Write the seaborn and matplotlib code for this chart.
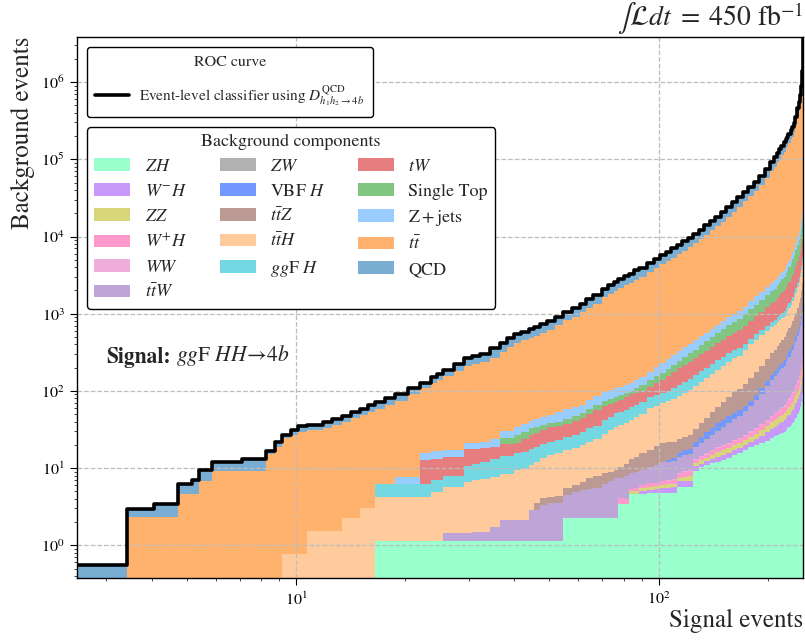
import numpy as np
import pandas as pd
import seaborn as sns
import matplotlib
matplotlib.use("Agg")
import matplotlib.pyplot as plt
from matplotlib.patches import Patch
from matplotlib.lines import Line2D
from matplotlib.ticker import LogLocator, NullFormatter, FixedLocator

# ---------------------------------------------------------------------------
# Signal-event thresholds (left edge of each step) and background yields
# ---------------------------------------------------------------------------
signal_events = [
    2.2, 3.41, 4.07, 4.73, 5.18, 5.40, 5.85, 7.1, 8.28, 8.74,
    9.15, 9.66, 10.1, 10.7, 11.9, 12.6, 13.4, 14.2, 15.0, 15.8,
    16.55, 17.6, 18.7, 20.3, 22.0, 23.5, 24.5, 25.5, 27.2, 29.0,
    30.6, 32.2, 34.3, 36.6, 38.2, 39.8, 41.8, 43.8,
    45.2, 47.2, 49.2, 51.8, 54.4, 57.5, 60.8, 63.2, 66.0, 70.0,
    72.5, 75.1, 77.1, 80.0, 82.7, 85.5, 88.0, 92.9, 97.0, 101.0,
    104.7, 108.4, 112.2, 116.3, 120.4, 124.6, 129.1, 133.7, 138.4, 143.3,
    148.4, 153.7, 159.2, 164.8, 170.7, 176.8, 183.0, 189.5, 196.3, 203.3,
    208, 212, 215, 218, 221, 224, 226, 228, 231, 233,
    236, 238, 241, 243, 245, 247, 248.5, 249.3,
]
signal_max = 250.6

zh = [0.0] * 20 + [1.14] * 22 + [2.24] * 8 + [
    3.4, 3.4, 4.58, 4.58, 4.6, 4.71, 4.71,
    4.75, 4.75, 4.75, 5.74, 5.74, 5.74, 9.3, 10.2, 11, 11.6,
    12.1, 12.8, 13.6, 14.8, 15.8, 17, 18.5, 19.8, 21, 22.5,
    24.5, 26, 27, 28, 28.8, 29.6, 31.5, 33, 34, 36,
    38, 41, 45, 50, 55, 62, 72, 90, 150]

w_minus_h = [0.0] * 54 + [
    0.4, 0.49, 0.6, 0.8, 0.83, 0.86, 1.0, 1.12, 1.15, 1.2,
    1.25, 1.3, 1.6, 1.9, 2.1, 2.3, 2.45, 2.6, 2.8, 3.0,
    4.0, 5.2, 6.5, 7.5, 8, 9, 10, 11.2, 12.4, 13.3,
    14, 15.2, 17, 18.5, 21, 24, 28, 33, 38, 47, 60, 100]

zz = [0.0] * 52 + [
    0.42, 0.45, 0.5, 0.54, 0.54, 0.56, 0.62, 0.7, 0.77, 0.84,
    0.95, 1.1, 1.15, 1.2, 1.5, 2.0, 2.1, 2.3, 2.45, 2.6,
    3.0, 3.5, 4.2, 5.0, 5.8, 7, 8, 8.5, 9, 9.2,
    9.4, 10.3, 11, 12.2, 14, 15.5, 18, 20, 22, 26, 30, 38, 50, 80]

w_plus_h = [0.0] * 50 + [
    0.66, 0.6, 0.4, 0.45, 0.5, 0.61, 0.62, 0.63, 0.66, 0.7,
    0.9, 1.3, 1.25, 1.2, 1.35, 1.5, 1.75, 2.0, 2.2, 2.45,
    2.7, 3.0, 3.3, 3.9, 4.5, 5.2, 5.8, 7, 8, 8.5,
    9, 10, 11.3, 12.8, 14, 15.3, 17, 19, 22, 25,
    30, 35, 40, 48, 60, 100]

ww = [0.0] * 57 + [
    0.13, 0.16, 0.2, 0.25, 0.3, 0.35, 0.4, 0.45, 0.5, 0.5,
    0.5, 0.55, 0.6, 0.65, 0.7, 0.8, 0.9, 1.0, 1.2, 1.4,
    1.7, 2, 2, 2, 2.2, 2.3, 2.6, 3, 3.4, 4,
    4.4, 5, 6, 7, 8.5, 10, 12, 15, 20]

ttw = [0.0] * 27 + [
    0.29, 0.29, 0.32, 0.34, 0.36, 0.6, 0.99, 0.99, 0.99, 0.99, 1.73, 1.76,
    2.2, 2.36, 2.36, 2.26, 2.6, 2.96, 3.2, 3.36, 3.96, 4.5,
    5.13, 3.44, 3.8, 3.2, 3.3, 3.5, 4.05, 4.6, 5.2, 5.0,
    4.8, 5.2, 5.5, 5.4, 5.3, 6.3, 7.5, 9.2, 11.1, 13.5,
    16.5, 19.5, 22, 27, 33, 42, 52, 70, 88, 98,
    110, 122, 132, 142, 160, 175, 190, 212, 235, 273,
    310, 363, 420, 500, 620, 775, 1350]

zw = [0.0] * 59 + [
    0.2, 0.2, 0.2, 0.25, 0.3, 0.4, 0.5, 0.55, 0.6, 0.7,
    0.8, 0.9, 1.0, 1.1, 1.3, 1.6, 2.0, 2.6, 3.3, 4,
    4.5, 5, 5, 5, 6, 7, 8, 10, 11, 12,
    13.5, 15, 17, 20, 25, 30, 50]

vbf_h = [0.0] * 58 + [
    0.8, 1.3, 1.7, 2.2, 2.7, 3.2, 4.3, 5.5, 6.6, 7.8,
    8.2, 8.6, 8.9, 9.0, 9.1, 9.3, 12, 16, 21, 24,
    26, 28, 30, 34, 39, 41, 43, 46, 50, 54,
    58, 65, 75, 87, 100, 130, 170, 250]

ttz = [0.0] * 38 + [
    0.6, 0.7, 0.76, 0.9, 1.0, 1.2, 1.47, 1.9, 2.2, 2.4,
    2.2, 2.08, 2.9, 3.6, 4.4, 5.2, 6, 6.8, 8, 9,
    8.8, 8.5, 8.4, 8.4, 9.2, 10, 13, 16, 20, 24.7,
    30, 36, 43, 50, 60, 72, 88, 105, 120, 145,
    160, 185, 205, 230, 254, 280, 300, 325, 360, 400,
    450, 520, 610, 700, 800, 1000, 1250, 2100]

tth = [0.0] * 10 + [
    0.76, 0.76, 0.76, 1.53, 1.53, 1.53, 2.28, 2.28, 3.07, 3.07,
    3.04, 3.04, 3.04, 3.04, 3.04, 3.8, 3.8, 4.31, 4.31, 5.21,
    5.45, 5.7, 5.96, 6.37, 6.37, 7.32, 7.7, 8.13,
    8.5, 9.5, 10.5, 11.1, 11.7, 12.4, 13.2, 14.6, 16, 19.4,
    22, 25, 25.6, 27, 29, 31.5, 34.5, 42.2, 45, 48,
    52, 57, 62, 67.4, 75, 83, 91, 100, 111, 124,
    138, 155, 170, 180, 210, 255, 285, 315, 345, 370,
    380, 390, 400, 408, 413, 460, 500, 540, 580, 650,
    750, 850, 1000, 1200, 1400, 1700, 2200, 3800]

ggf_h = [0.0] * 20 + [
    2.04, 2.04, 2.04, 2.04, 2.12, 2.06, 2.06, 2.21, 2.21, 3.93,
    4.4, 4.9, 5.3, 5.8, 5.8, 6.15, 6.5, 6.8,
    7, 7.1, 7.2, 7.5, 7.9, 8.8, 9.7, 10.7, 11.7, 14,
    15.5, 16.9, 18, 19, 20, 21, 22, 24.6, 24.3, 24,
    27, 30, 33, 37, 41, 45, 50, 55, 59, 64,
    66, 68, 70, 72, 74, 76, 82, 90, 98, 110,
    120, 125, 130, 140, 152, 170, 180, 190, 200, 220,
    250, 270, 300, 350, 400, 480, 600, 1000]

tw = [0.0] * 24 + [
    6.4, 6.1, 6.1, 5.85, 5.85, 6.9, 6.4, 5.9, 6, 6.2, 6.2, 5.8, 7.2, 8.7,
    9.5, 10.6, 11.8, 12.1, 12.4, 13.5, 14.6, 17.5, 21.1, 21,
    21.1, 21.2, 22, 25, 28, 28, 28, 29, 38, 47,
    56, 65, 76, 87, 96, 105, 117, 130, 146, 163,
    185, 210, 230, 250, 285, 330, 380, 440, 510, 570,
    610, 700, 800, 880, 960, 1050, 1120, 1200, 1300, 1480,
    1700, 1950, 2300, 2700, 3100, 3800, 4700, 8000]

single_top = [0.0] * 33 + [
    4, 4, 5.5, 6, 6.5,
    6, 5.2, 4.4, 5, 5.5, 6.3, 7.2, 8.2, 9.1, 10,
    10.7, 11.4, 12, 11, 10, 14, 18, 25, 28, 32,
    36, 40, 50, 60, 67, 75, 92, 110, 128, 146,
    170, 195, 220, 250, 285, 335, 390, 450, 530, 610,
    650, 750, 850, 920, 980, 1100, 1200, 1400, 1700, 1900,
    2200, 2550, 3000, 3500, 4000, 4800, 6000, 10000]

z_jets = [0.0] * 22 + [
    1.48, 1.48, 2.9, 3.5, 3.5, 3.4, 3.4, 3.4, 3.7, 4, 5, 6, 6, 6.9, 7.5, 8,
    8.5, 9.5, 10.6, 12.5, 15, 14.6, 14.3, 17.5, 20.8, 23,
    23.5, 24, 25, 26.5, 28, 30, 32, 40, 48, 58,
    68, 80, 88, 96, 103, 110, 120, 130, 142, 155,
    170, 190, 210, 225, 260, 320, 370, 420, 480, 560,
    600, 600, 600, 640, 676, 750, 800, 900, 1050, 1200,
    1400, 1650, 2000, 2400, 2900, 3400, 4000, 7000]

ttbar = [
    0.0, 2.35, 2.35, 4.58, 4.58, 6.8, 9.17, 9.17, 15.1, 19.0,
    23.5, 26.2, 28.2, 29.5, 31.5, 34.5, 37.7, 41.7, 45, 49.9,
    51.8, 58.8, 66.3, 82.3, 92.4, 109.4, 123.4, 137.8, 164.8, 190,
    203, 215, 243, 288, 336.5, 384, 414, 440,
    475, 518, 562, 658, 762, 858, 973, 1096, 1258, 1531,
    1700, 1884, 2020, 2217, 2362, 2586, 2818, 3285, 3706, 4139,
    4566, 5051, 5577, 6184, 6819, 7671, 8772, 10001, 11356, 12937,
    14804, 17104, 19952, 23268, 27182, 31655, 36903, 43950, 54466, 67308,
    77515, 89385, 99195, 110100, 121849, 134762, 143945, 156016, 176130, 190840,
    214655, 258975, 342800, 412120, 501360, 649990, 1042500, 3966000]

qcd = [
    0.55, 0.58, 1.05, 1.59, 2.42, 2.65, 2.93, 4.0, 1.7, 2.5,
    2.7, 4.0, 6.0, 5.5, 7.0, 7.5, 8.0, 9, 10, 12,
    14, 15, 16, 18, 20, 24, 27, 30, 40, 54,
    61, 68, 89, 101, 111, 122, 132, 149,
    162, 176, 189, 207, 230, 270, 311, 358, 410, 473,
    533, 608, 644, 706, 810, 905, 972, 1107, 1242, 1391,
    1553, 1715, 1890, 2093, 2322, 2619, 2970, 3389, 3875, 4428,
    4995, 5765, 6750, 7898, 9180, 10733, 12393, 14742, 18185, 22424,
    25785, 29565, 32805, 36450, 40365, 44550, 47655, 51705, 58320, 63315,
    71145, 85725, 113400, 136350, 165240, 213840, 337500, 1000000]

# Stack order (bottom -> top), legend labels and fill colours
labels = [r"$ZH$", r"$W^{-}H$", r"$ZZ$", r"$W^{+}H$", r"$WW$", r"$t\bar{t}W$",
          r"$ZW$", r"VBF $H$", r"$t\bar{t}Z$", r"$t\bar{t}H$", r"$gg$F $H$",
          r"$tW$", "Single Top", r"$\mathrm{Z}+\mathrm{jets}$", r"$t\bar{t}$", "QCD"]
series = [zh, w_minus_h, zz, w_plus_h, ww, ttw, zw, vbf_h, ttz, tth, ggf_h,
          tw, single_top, z_jets, ttbar, qcd]
colors = ["#99FFCC", "#C899FA", "#D7D77A", "#FF99CC", "#EEADDA", "#BFA4D7",
          "#B2B2B2", "#7399FF", "#BA9A93", "#FFCA9C", "#74D8E2", "#E67D7E",
          "#80C680", "#99CCFF", "#FFB26E", "#79ADD2"]

# ---------------------------------------------------------------------------
# Style
# ---------------------------------------------------------------------------
sns.set_style("ticks")
plt.rcParams["font.family"] = "STIXGeneral"
plt.rcParams["mathtext.fontset"] = "stix"

fig = plt.figure(figsize=(8.05, 6.43), dpi=100)
ax = fig.add_axes([77 / 805, 65 / 643, 726 / 805, 541 / 643])
ax.set_xscale("log")
ax.set_yscale("log")

edges = np.append(np.asarray(signal_events, dtype=float), signal_max)
stack = np.cumsum(np.asarray(series, dtype=float), axis=0)

# Each layer is filled from the floor up to its cumulative level; the
# layers are painted top-down so lower ones sit on top without seams.
for k in range(len(series) - 1, -1, -1):
    ax.stairs(stack[k], edges, baseline=1e-2, fill=True,
              color=colors[k], lw=0, zorder=1)

roc = pd.DataFrame({"signal": signal_events, "background": stack[-1]})
sns.lineplot(data=roc, x="signal", y="background", ax=ax, color="black",
             lw=2.6, drawstyle="steps-post", estimator=None, sort=False,
             legend=False, zorder=3)

ax.set_xlim(2.49, 250)
ax.set_ylim(0.377, 3.84e6)

ax.set_axisbelow("line")
ax.grid(True, which="major", ls="--", color="#bdbdbd", lw=0.9)

ax.xaxis.set_major_locator(FixedLocator([10, 100]))
ax.yaxis.set_major_locator(FixedLocator([1, 10, 100, 1e3, 1e4, 1e5, 1e6]))
ax.xaxis.set_minor_locator(LogLocator(base=10, subs=np.arange(2, 10), numticks=100))
ax.yaxis.set_minor_locator(LogLocator(base=10, subs=np.arange(2, 10), numticks=100))
ax.xaxis.set_minor_formatter(NullFormatter())
ax.yaxis.set_minor_formatter(NullFormatter())
ax.tick_params(which="major", direction="out", length=5, width=0.8,
               labelsize=11.5, colors="black", pad=4)
ax.tick_params(which="minor", direction="out", length=2.5, width=0.6)
for s in ax.spines.values():
    s.set_visible(True)
    s.set_color("black")
    s.set_linewidth(1.0)

ax.set_xlabel("Signal events", fontsize=18, loc="right", labelpad=1)
ax.set_ylabel("Background events", fontsize=18, loc="top", labelpad=4)
ax.set_title(r"$\int\mathcal{L}dt\;=\;450\ \mathrm{fb}^{-1}$", loc="right",
             fontsize=20, pad=5)

sig_lbl = ax.text(0.040, 0.397, "Signal:", transform=ax.transAxes,
                  fontsize=15.5, fontweight="bold", ha="left", va="baseline")
ax.annotate(r"$gg$F $HH\!\rightarrow\!4b$", xy=(1, 0), xycoords=sig_lbl,
            xytext=(4, 0), textcoords="offset points", fontsize=15.5,
            ha="left", va="bottom")

# Legends
roc_handle = Line2D([], [], color="black", lw=2.6)
leg1 = ax.legend([roc_handle],
                 [r"Event-level classifier using $D^{\mathrm{QCD}}_{h_1h_2\rightarrow 4b}$"],
                 title="ROC curve", loc="upper left",
                 bbox_to_anchor=(0.0138, 0.9815), borderaxespad=0,
                 fontsize=11, title_fontsize=11.5, frameon=True, fancybox=True,
                 edgecolor="black", framealpha=1, handlelength=2.2,
                 handletextpad=0.65, borderpad=0.55, labelspacing=0.95)
leg1.get_frame().set_linewidth(1.0)
ax.add_artist(leg1)

patches = [Patch(facecolor=c, edgecolor="none") for c in colors]
leg2 = ax.legend(patches, labels, title="Background components", ncol=3,
                 loc="upper left", bbox_to_anchor=(0.0138, 0.8336),
                 borderaxespad=0, fontsize=13, title_fontsize=13,
                 frameon=True, fancybox=True, edgecolor="black",
                 framealpha=1, labelspacing=0.45, columnspacing=1.8,
                 handletextpad=0.8, handlelength=2.0)
leg2.get_frame().set_linewidth(1.0)

fig.savefig("out.png", dpi=100)
